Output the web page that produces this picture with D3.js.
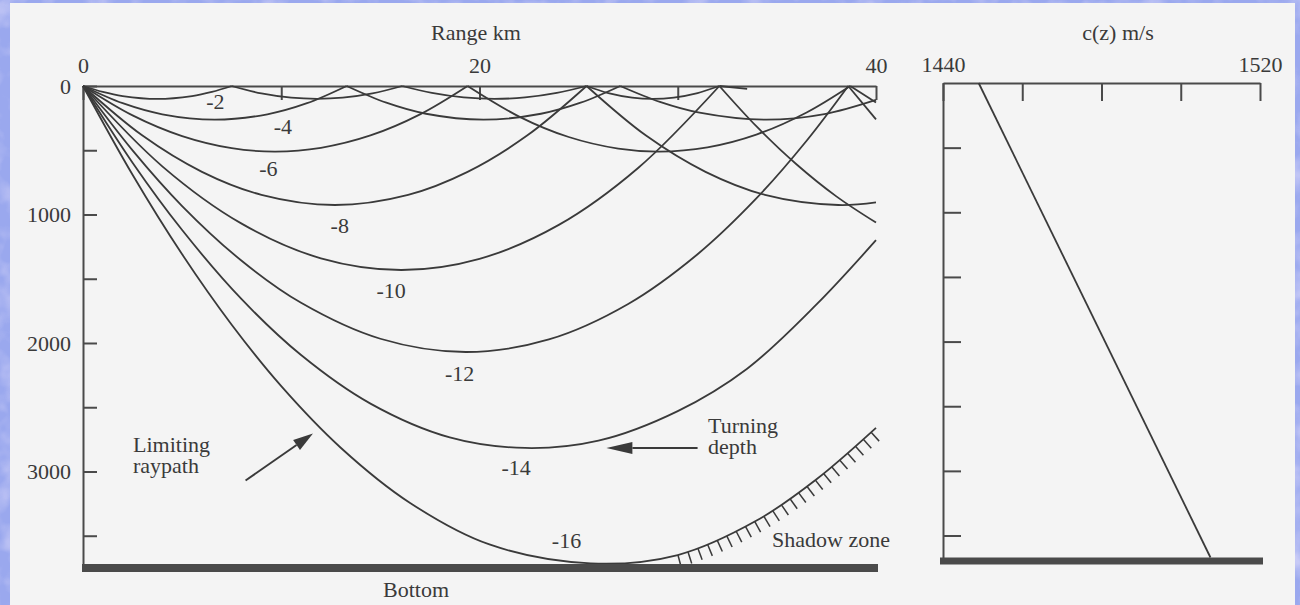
<!DOCTYPE html>
<html>
<head>
<meta charset="utf-8">
<script src="https://cdn.jsdelivr.net/npm/d3@7"></script>
<style>
  body { margin: 0; background: #a0acec; }
  svg text { font-family: "Liberation Serif", "DejaVu Serif", serif; font-size: 22px; fill: #3a3a3a; }
</style>
</head>
<body>
<svg id="chart" width="1300" height="605"></svg>
<script>
// ray launch angles (deg) and paths as [range km, depth m]
var rayAngles = [-2, -4, -6, -8, -10, -12, -14, -16];

var ray2 = [[0,0],[1,46],[2,78],[3.75,100],[5.5,78],[6.5,46],[7.5,0],[9,58],[10.5,91],[11.8,100],[13.1,91],[14.6,58],[16.1,0],
            [17.6,54],[19.2,89],[20.75,100],[22.3,89],[23.9,54],[25.4,0],[26.5,55],[27.7,90],[28.75,100],[29.8,90],[31,55],[32.1,0],[33.5,22]];
var ray4 = [[0,0],[2,134],[4,220],[6.65,262],[9.3,220],[11.3,134],[13.3,0],[15.3,130],[17.3,216],[20.2,262],[23.1,216],[25.1,130],[27.1,0],
            [29.1,124],[31.1,208],[34.4,262],[37.4,218],[40,108]];
var ray6 = [[0,0],[2.5,229],[5,390],[7.5,484],[9.7,510],[12,481],[14.5,385],[17,221],[19.4,0],
            [22,238],[24.5,397],[27,487],[29.05,510],[31.5,477],[34,376],[36.5,206],[38.7,0],[40,128]];
var ray8 = [[0,0],[3,386],[6,668],[9,847],[12.7,926],[16.4,847],[19.4,668],[22.4,386],[25.4,0],
            [28.4,386],[31.4,668],[34.4,847],[38.1,926],[40,905]];
var ray10 = [[0,0],[4,625],[8,1071],[12,1341],[16.05,1432],[20,1345],[24,1081],[28,638],[32.1,0],[34,319],[36,611],[38,859],[40,1063]];
var ray12 = [[0,0],[2.5,501],[5,934],[8,1360],[11,1687],[15,1967],[19.3,2070],[23.5,1972],[27.5,1696],[31,1309],[34,869],[36.5,426],[38.6,0],[40,260]];
var ray14 = [[0,0],[2.5,597],[5,1121],[8,1659],[11,2094],[14.5,2472],[18.5,2735],[22.3,2817],[26,2760],[30,2530],[33.5,2200],[37,1700],[40,1200]];
var ray16 = [[0,0],[2.5,691],[5,1310],[7.5,1858],[10,2336],[13,2815],[16.5,3245],[20.5,3568],[25.6,3715],[30,3650],[34,3380],[37,3060],[40,2660]];
var rays = [ray2, ray4, ray6, ray8, ray10, ray12, ray14, ray16];

var rangeTicks = [0, 10, 20, 30, 40];
var rangeLabels = [0, 20, 40];
var depthTicks = [0, 500, 1000, 1500, 2000, 2500, 3000, 3500];
var depthLabels = [0, 1000, 2000, 3000];
var bottomDepth = 3720;
var shadowStart = 30;   // km, where the shadow zone hatching begins

// sound speed profile
var speedTicks = [1440, 1460, 1480, 1500, 1520];
var speedLabels = [1440, 1520];
var speedDepth = [0, 3670];
var speedValue = [1449, 1507.5];

var svg = d3.select("#chart");
var ink = "#3a3a3a";

// mottled blue backdrop and the page
var defs = svg.append("defs");
var f = defs.append("filter").attr("id", "mottle");
f.append("feTurbulence").attr("type", "fractalNoise").attr("baseFrequency", "0.035").attr("numOctaves", 3).attr("seed", 4);
f.append("feColorMatrix").attr("type", "matrix")
  .attr("values", "0 0 0 0 0.92  0 0 0 0 0.85  0 0 0 0 1  1.8 0 0 0 -0.8");
svg.append("rect").attr("width", 1300).attr("height", 605).attr("fill", "#9aa8ee");
svg.append("rect").attr("width", 1300).attr("height", 605).attr("filter", "url(#mottle)").attr("opacity", 0.6);
svg.append("rect").attr("x", 10).attr("y", 3).attr("width", 1285).attr("height", 602).attr("fill", "#f4f4f4");

// ---------- left panel: ray paths ----------
var x = d3.scaleLinear().domain([0, 40]).range([83, 876]);
var y = d3.scaleLinear().domain([0, bottomDepth]).range([86, 564]);

function styleAxis(g) {
  g.attr("font-size", null).attr("font-family", null);
  g.select(".domain").attr("stroke", "#4a4a4a").attr("stroke-width", 2);
  g.selectAll(".tick line").attr("stroke", "#4a4a4a").attr("stroke-width", 2);
  g.selectAll(".tick text").attr("fill", null);
}

svg.append("g")
  .attr("transform", "translate(0," + y(0) + ")")
  .call(d3.axisTop(x).tickValues(rangeTicks).tickSizeInner(-14).tickSizeOuter(0).tickPadding(13)
    .tickFormat(function (d) { return rangeLabels.indexOf(d) >= 0 ? d : ""; }))
  .call(styleAxis);

svg.append("g")
  .attr("transform", "translate(" + x(0) + ",0)")
  .call(d3.axisLeft(y).tickValues(depthTicks).tickSizeInner(-14).tickSizeOuter(0).tickPadding(12)
    .tickFormat(function (d) { return depthLabels.indexOf(d) >= 0 ? d : ""; }))
  .call(styleAxis);

svg.append("text").attr("x", 476).attr("y", 40).attr("text-anchor", "middle").text("Range km");

// split a ray at its surface bounces so each arc is smoothed on its own
function arcs(pts) {
  var out = [], cur = [pts[0]];
  for (var i = 1; i < pts.length; i++) {
    cur.push(pts[i]);
    if (pts[i][1] === 0 && i < pts.length - 1) { out.push(cur); cur = [pts[i]]; }
  }
  out.push(cur);
  return out;
}

var line = d3.line()
  .x(function (d) { return x(d[0]); })
  .y(function (d) { return y(d[1]); })
  .curve(d3.curveCatmullRom.alpha(0.5));

var rayG = svg.append("g").attr("fill", "none").attr("stroke", ink).attr("stroke-width", 1.8);
rays.forEach(function (r, i) {
  rayG.selectAll(null).data(arcs(r)).enter().append("path")
    .attr("class", "ray" + (-rayAngles[i]))
    .attr("d", line);
});

// ray labels placed from each ray's turning point
var labelShift = [[58, 2], [68, 7], [-7, 17], [5, 20], [-10, 20], [-6, 21], [-9, 19], [-24, -23]];
rays.forEach(function (r, i) {
  var deep = r.slice(0, r.findIndex(function (p, k) { return k > 0 && p[1] === 0; }) + 1 || r.length);
  var turn = deep.reduce(function (a, b) { return b[1] > a[1] ? b : a; });
  svg.append("text")
    .attr("x", x(turn[0]) + labelShift[i][0])
    .attr("y", y(turn[1]) + labelShift[i][1])
    .attr("dy", "0.35em")
    .attr("text-anchor", "middle")
    .text(rayAngles[i]);
});

// shadow zone hatching along the limiting ray
var limitPath = svg.select("path.ray16").node();
var total = limitPath.getTotalLength();
var l0 = 0;
while (l0 < total && limitPath.getPointAtLength(l0).x < x(shadowStart)) l0 += 1;
var hatch = svg.append("g").attr("stroke", ink).attr("stroke-width", 1.5);
for (var l = l0; l < total - 2; l += 10.5) {
  var p = limitPath.getPointAtLength(l), q = limitPath.getPointAtLength(l + 1);
  var tx = q.x - p.x, ty = q.y - p.y, n = Math.sqrt(tx * tx + ty * ty);
  tx /= n; ty /= n;
  hatch.append("line").attr("x1", p.x).attr("y1", p.y)
    .attr("x2", p.x - ty * 12).attr("y2", p.y + tx * 12);
}

// bottom
svg.append("rect").attr("x", x(0) - 1).attr("y", y(bottomDepth)).attr("width", x(40) - x(0) + 3).attr("height", 8).attr("fill", "#4a4a4a");
svg.append("text").attr("x", 416).attr("y", 597).attr("text-anchor", "middle").text("Bottom");

// annotations
function arrow(from, to, len, half) {
  var a = [x(from[0]), y(from[1])], b = [x(to[0]), y(to[1])];
  var dx = b[0] - a[0], dy = b[1] - a[1], d = Math.sqrt(dx * dx + dy * dy);
  var ux = dx / d, uy = dy / d;
  var base = [b[0] - ux * len, b[1] - uy * len];
  svg.append("line").attr("x1", a[0]).attr("y1", a[1]).attr("x2", base[0]).attr("y2", base[1])
    .attr("stroke", ink).attr("stroke-width", 2);
  svg.append("path")
    .attr("d", "M" + b + "L" + [base[0] - uy * half, base[1] + ux * half] + "L" + [base[0] + uy * half, base[1] - ux * half] + "Z")
    .attr("fill", ink);
}
arrow([8.2, 3070], [11.6, 2705], 20, 6);
arrow([31.0, 2817], [26.4, 2817], 26, 6);

function twoLines(px, py, a, b) {
  var t = svg.append("text").attr("x", px).attr("y", py);
  t.append("tspan").attr("x", px).text(a);
  t.append("tspan").attr("x", px).attr("dy", 21).text(b);
}
twoLines(133, 452, "Limiting", "raypath");
twoLines(708, 433, "Turning", "depth");
svg.append("text").attr("x", 772).attr("y", 547).text("Shadow zone");

// ---------- right panel: sound speed ----------
var xR = d3.scaleLinear().domain([1440, 1520]).range([943, 1260]);
var yR = d3.scaleLinear().domain([0, speedDepth[1]]).range([83, 557.5]);

svg.append("g")
  .attr("transform", "translate(0," + yR(0) + ")")
  .call(d3.axisTop(xR).tickValues(speedTicks).tickSizeInner(-18).tickSizeOuter(0).tickPadding(11)
    .tickFormat(function (d) { return speedLabels.indexOf(d) >= 0 ? d : ""; }))
  .call(styleAxis);

svg.append("g")
  .attr("transform", "translate(" + xR(1440) + ",0)")
  .call(d3.axisLeft(yR).tickValues(depthTicks.slice(1)).tickSizeInner(-18).tickSizeOuter(0).tickFormat(""))
  .call(styleAxis);

svg.append("text").attr("x", 1118).attr("y", 40).attr("text-anchor", "middle").text("c(z) m/s");

svg.append("path")
  .datum(d3.zip(speedValue, speedDepth))
  .attr("d", d3.line().x(function (d) { return xR(d[0]); }).y(function (d) { return yR(d[1]); }))
  .attr("fill", "none").attr("stroke", ink).attr("stroke-width", 1.8);

svg.append("rect").attr("x", xR(1440) - 3).attr("y", yR(speedDepth[1])).attr("width", xR(1520) - xR(1440) + 6).attr("height", 7).attr("fill", "#4a4a4a");
</script>
</body>
</html>
